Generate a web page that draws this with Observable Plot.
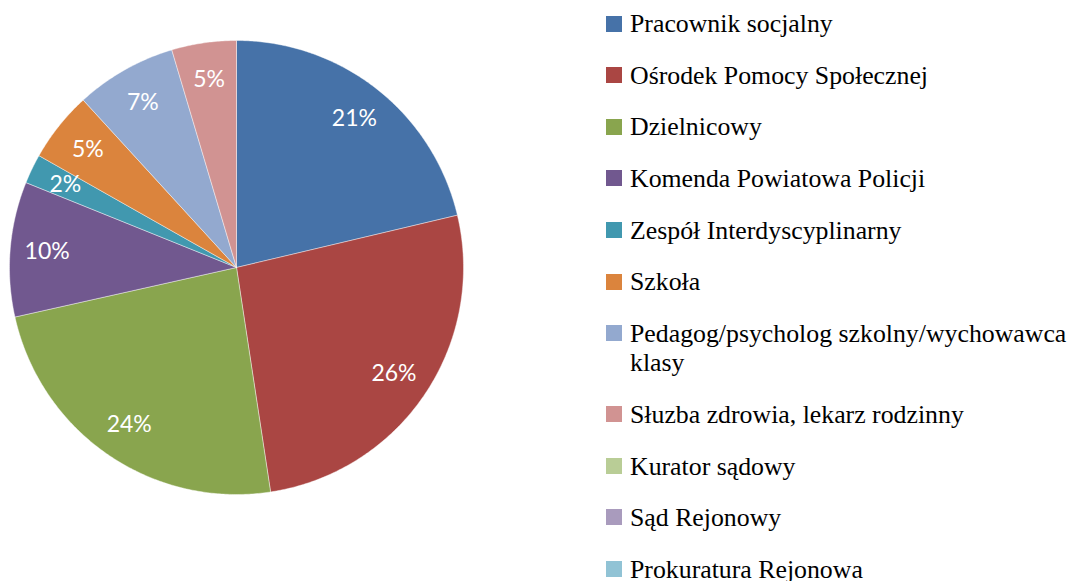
<!DOCTYPE html>
<html><head><meta charset="utf-8">
<script src="https://cdn.jsdelivr.net/npm/d3@7"></script>
<script src="https://cdn.jsdelivr.net/npm/@observablehq/plot@0.6"></script>
<style>
body{margin:0;background:#fff;}
#wrap{position:relative;width:1073px;height:581px;overflow:hidden;background:#fff;}
#chart{position:absolute;left:0;top:0;}
#legend{position:absolute;left:606px;top:9.3px;font-family:"Liberation Serif","Times New Roman","DejaVu Serif","Noto Serif",Times,serif;font-size:25.8px;color:#000;}
#legend .lbl{font-family:"Liberation Serif","Times New Roman","DejaVu Serif","Noto Serif",Times,serif;}
.item{display:flex;align-items:flex-start;line-height:29.5px;margin-bottom:22.1px;}
.sw{width:16px;height:16px;margin-top:6.3px;margin-right:8px;flex:none;}
.lbl{max-width:442px;}
</style></head>
<body>
<div id="wrap"><div id="chart"></div><div id="legend"></div></div>
<script>
const categories = [
  "Pracownik socjalny",
  "Ośrodek Pomocy Społecznej",
  "Dzielnicowy",
  "Komenda Powiatowa Policji",
  "Zespół Interdyscyplinarny",
  "Szkoła",
  "Pedagog/psycholog szkolny/wychowawca klasy",
  "Słuzba zdrowia, lekarz rodzinny",
  "Kurator sądowy",
  "Sąd Rejonowy",
  "Prokuratura Rejonowa"
];
const shares = [21.3, 26.3, 23.9, 9.6, 2.1, 5.0, 7.2, 4.6, 0, 0, 0];
const colors = ["#4672A8","#AA4643","#89A54E","#71588F","#4198AF","#DB843D","#93A9CF","#D19392","#B9CD96","#A99BBD","#91C3D5"];

const total = d3.sum(shares);
const polys = [];
const labels = [];
let acc = 0;
categories.forEach((name, i) => {
  const v = shares[i];
  const a0 = acc / total * 2 * Math.PI;
  acc += v;
  const a1 = acc / total * 2 * Math.PI;
  if (v <= 0) return;
  const n = Math.max(2, Math.ceil((a1 - a0) / (Math.PI / 360)));
  polys.push({name, x: 0, y: 0});
  for (let k = 0; k <= n; k++) {
    const a = a0 + (a1 - a0) * k / n;
    polys.push({name, x: Math.sin(a), y: Math.cos(a)});
  }
  polys.push({name, x: 0, y: 0});
  const m = (a0 + a1) / 2;
  labels.push({name, x: 0.837 * Math.sin(m), y: 0.837 * Math.cos(m), text: Math.round(v) + "%"});
});

const chart = Plot.plot({
  width: 472,
  height: 581,
  marginLeft: 9,
  marginRight: 9,
  marginTop: 40,
  marginBottom: 87,
  x: {domain: [-1, 1], axis: null},
  y: {domain: [-1, 1], axis: null},
  color: {domain: categories, range: colors},
  style: {background: "white"},
  marks: [
    Plot.line(polys, {x: "x", y: "y", z: "name", fill: "name", stroke: "white", strokeWidth: 0.6, strokeOpacity: 0.7, curve: "linear"}),
    Plot.text(labels, {x: "x", y: "y", text: "text", fill: "white", fontSize: 23, fontFamily: "Lato, 'Open Sans', sans-serif"})
  ]
});
document.getElementById("chart").appendChild(chart);

const leg = document.getElementById("legend");
categories.forEach((name, i) => {
  const item = document.createElement("div");
  item.className = "item";
  const sw = document.createElement("div");
  sw.className = "sw";
  sw.style.background = chart.scale("color").apply(name);
  const lb = document.createElement("div");
  lb.className = "lbl";
  lb.textContent = name;
  item.appendChild(sw);
  item.appendChild(lb);
  leg.appendChild(item);
});
</script>
</body></html>
